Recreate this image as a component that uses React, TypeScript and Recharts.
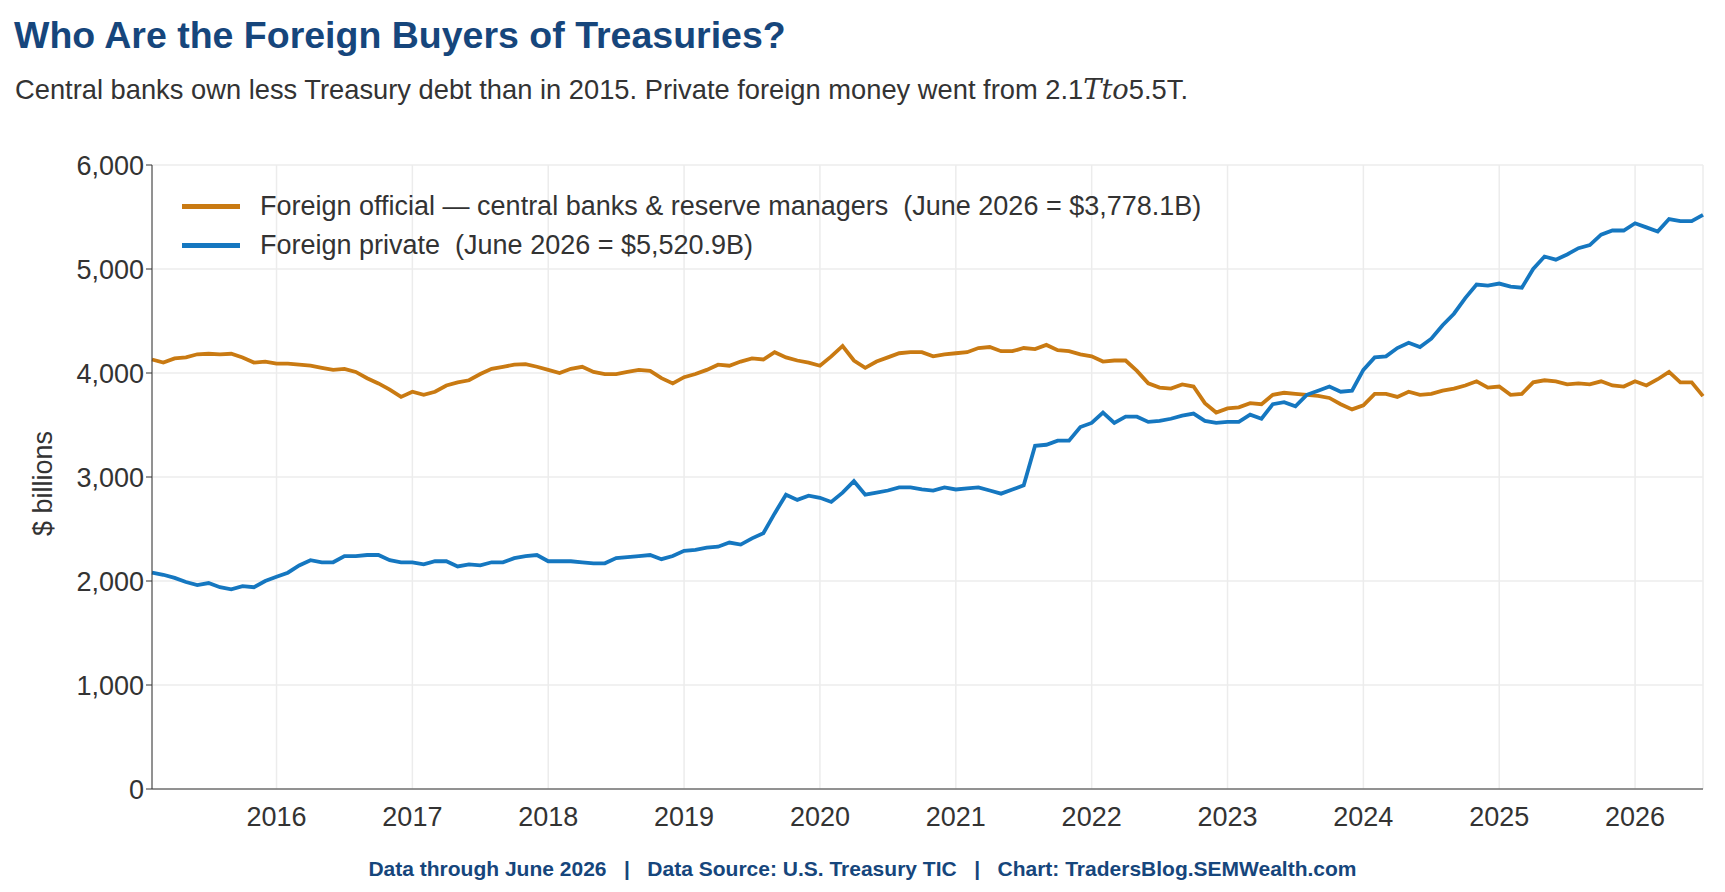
import React from "react";
import { LineChart, Line, XAxis, YAxis, CartesianGrid } from "recharts";

const START_YEAR = 2015;
const YEAR_TICKS = [2016, 2017, 2018, 2019, 2020, 2021, 2022, 2023, 2024, 2025, 2026];
const Y_TICKS = [0, 1000, 2000, 3000, 4000, 5000, 6000];

// Monthly, Jan 2015 – Jun 2026 (month-end), $ billions
const official = [
  4130, 4100, 4140, 4150, 4180, 4185, 4180, 4185, 4150, 4100, 4110, 4090,
  4090, 4080, 4070, 4050, 4030, 4040, 4010, 3950, 3900, 3840, 3770, 3820,
  3790, 3820, 3880, 3910, 3930, 3990, 4040, 4060, 4080, 4085, 4060, 4030,
  4000, 4040, 4060, 4010, 3990, 3990, 4010, 4030, 4020, 3950, 3900, 3960,
  3990, 4030, 4080, 4070, 4110, 4140, 4130, 4200, 4150, 4120, 4100, 4070,
  4160, 4260, 4120, 4050, 4110, 4150, 4190, 4200, 4200, 4160, 4180, 4190,
  4200, 4240, 4250, 4210, 4210, 4240, 4230, 4270, 4220, 4210, 4180, 4160,
  4110, 4120, 4120, 4020, 3900, 3860, 3850, 3890, 3870, 3710, 3620, 3660,
  3670, 3710, 3700, 3790, 3810, 3800, 3790, 3780, 3760, 3700, 3650, 3690,
  3800, 3800, 3770, 3820, 3790, 3800, 3830, 3850, 3880, 3920, 3860, 3870,
  3790, 3800, 3910, 3930, 3920, 3890, 3900, 3890, 3920, 3880, 3870, 3920,
  3880, 3940, 4010, 3910, 3910, 3778,
];
const priv = [
  2080, 2060, 2030, 1990, 1960, 1980, 1940, 1920, 1950, 1940, 2000, 2040,
  2080, 2150, 2200, 2180, 2180, 2240, 2240, 2250, 2250, 2200, 2180, 2180,
  2160, 2190, 2190, 2140, 2160, 2150, 2180, 2180, 2220, 2240, 2250, 2190,
  2190, 2190, 2180, 2170, 2170, 2220, 2230, 2240, 2250, 2210, 2240, 2290,
  2300, 2320, 2330, 2370, 2350, 2410, 2460, 2650, 2830, 2780, 2820, 2800,
  2760, 2850, 2960, 2830, 2850, 2870, 2900, 2900, 2880, 2870, 2900, 2880,
  2890, 2900, 2870, 2840, 2880, 2920, 3300, 3310, 3350, 3350, 3480, 3520,
  3620, 3520, 3580, 3580, 3530, 3540, 3560, 3590, 3610, 3540, 3520, 3530,
  3530, 3600, 3560, 3700, 3720, 3680, 3790, 3830, 3870, 3820, 3830, 4030,
  4150, 4160, 4240, 4290, 4250, 4330, 4460, 4570, 4720, 4850, 4840, 4860,
  4830, 4820, 5000, 5120, 5090, 5140, 5200, 5230, 5330, 5370, 5370, 5440,
  5400, 5360, 5480, 5460, 5460, 5521,
];

// x = months since start of 2015, at month end
const data = official.map((v, i) => ({ m: i + 1, official: v, private: priv[i] }));

const ORANGE = "#c97a12";
const BLUE = "#1577c0";
const NAVY = "#16467c";
const FONT = "'Liberation Sans', Arial, sans-serif";

export default function App() {
  return (
    <div style={{ position: "relative", width: 1725, height: 892, margin: -8, fontFamily: FONT, background: "#fff" }}>
      <div style={{ position: "absolute", left: 14, top: 14, fontSize: 37.5, fontWeight: 700, color: NAVY }}>
        Who Are the Foreign Buyers of Treasuries?
      </div>
      <div style={{ position: "absolute", left: 15, top: 74, fontSize: 27.3, color: "#333" }}>
        Central banks own less Treasury debt than in 2015. Private foreign money went from 2.1
        <span style={{ fontStyle: "italic", fontFamily: "'DejaVu Serif', serif" }}>Tto</span>5.5T.
      </div>
      <div style={{ position: "absolute", left: 0, top: 0 }}>
        <LineChart width={1725} height={892} data={data} margin={{ top: 165, right: 22, bottom: 73, left: 72 }}>
          <CartesianGrid stroke="#ececec" strokeWidth={1.5} />
          <XAxis
            dataKey="m"
            type="number"
            domain={[1, 138]}
            ticks={YEAR_TICKS.map((y) => (y - START_YEAR) * 12)}
            tickFormatter={(v: number) => String(START_YEAR + v / 12)}
            height={30}
            stroke="#333"
            tickLine={false}
            tick={{ fill: "#333", fontSize: 27, dy: 10 }}
          />
          <YAxis
            domain={[0, 6000]}
            ticks={Y_TICKS}
            tickFormatter={(v: number) => v.toLocaleString("en-US")}
            width={80}
            stroke="#333"
            tick={{ fill: "#333", fontSize: 27 }}
            tickSize={6}
          />
          <Line dataKey="official" stroke={ORANGE} strokeWidth={3.8} dot={false} isAnimationActive={false} />
          <Line dataKey="private" stroke={BLUE} strokeWidth={3.8} dot={false} isAnimationActive={false} />
        </LineChart>
      </div>
      <div style={{ position: "absolute", left: 28, top: 478, transform: "rotate(-90deg)", transformOrigin: "0 0", fontSize: 27, color: "#333", whiteSpace: "nowrap", width: 0 }}>
        <span style={{ position: "absolute", left: -58, top: 0 }}>$ billions</span>
      </div>
      {[
        { c: ORANGE, t: "Foreign official — central banks & reserve managers  (June 2026 = $3,778.1B)", y: 206 },
        { c: BLUE, t: "Foreign private  (June 2026 = $5,520.9B)", y: 245 },
      ].map((l) => (
        <div key={l.t} style={{ position: "absolute", left: 182, top: l.y - 16, display: "flex", alignItems: "center", height: 32 }}>
          <div style={{ width: 58, height: 5, background: l.c }} />
          <div style={{ marginLeft: 20, fontSize: 27, color: "#333", whiteSpace: "pre" }}>{l.t}</div>
        </div>
      ))}
      <div style={{ position: "absolute", left: 0, width: 1725, top: 857, textAlign: "center", fontSize: 21, fontWeight: 700, color: NAVY, whiteSpace: "pre" }}>
        {"Data through June 2026   |   Data Source: U.S. Treasury TIC   |   Chart: TradersBlog.SEMWealth.com"}
      </div>
    </div>
  );
}
